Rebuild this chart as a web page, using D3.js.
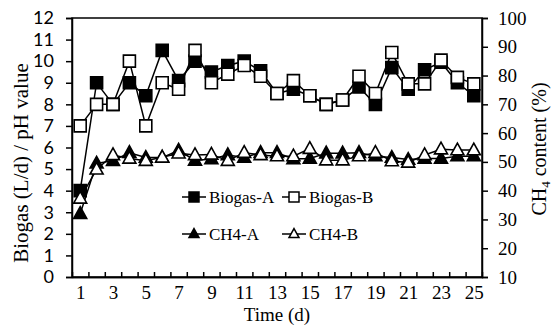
<!DOCTYPE html>
<html>
<head>
<meta charset="utf-8">
<script src="https://cdn.jsdelivr.net/npm/d3@7"></script>
<style>
  body { margin: 0; background: #fff; }
  text { fill: #000; }
</style>
</head>
<body>
<svg id="chart" width="553" height="333"></svg>
<script>
// values
var days = d3.range(1, 26);
var biogasA = [4.0, 9.0, 8.0, 9.0, 8.4, 10.5, 9.1, 10.0, 9.5, 9.8, 10.0, 9.55, 8.5, 8.7, 8.4, 8.0, 8.2, 8.8, 8.0, 9.7, 8.7, 9.6, 9.95, 9.0, 8.4];
var biogasB = [7.0, 8.0, 8.0, 10.0, 7.0, 9.0, 8.7, 10.5, 9.0, 9.4, 9.8, 9.3, 8.5, 9.1, 8.4, 8.0, 8.2, 9.3, 8.5, 10.4, 8.95, 8.95, 10.05, 9.25, 8.95];
var ch4A = [32, 49.5, 50.4, 53.2, 51.5, 51.5, 54.0, 50.5, 51.0, 52.4, 51.5, 53.2, 53.2, 51.0, 51.2, 53.0, 53.0, 53.2, 52.0, 51.5, 50.8, 51.2, 51.2, 52.0, 52.0];
var ch4B = [37.3, 47.4, 52.4, 51.2, 50.4, 51.6, 53.0, 52.4, 52.6, 50.4, 53.2, 52.4, 52.0, 52.0, 54.6, 50.6, 50.6, 52.0, 53.2, 50.3, 49.8, 52.4, 54.4, 54.1, 54.1];
var leftTicks = d3.range(0, 13);
var rightTicks = d3.range(10, 101, 10);
var xLabels = [1, 3, 5, 7, 9, 11, 13, 15, 17, 19, 21, 23, 25];

var svg = d3.select("#chart");
var plotL = 72, plotR = 482, plotT = 18, plotB = 277;
var serif = "'Liberation Serif', 'Times New Roman', serif";

var x = d3.scaleLinear().domain([0.5, 25.5]).range([plotL, plotR]);
var yL = d3.scaleLinear().domain([0, 12]).range([plotB, plotT]);
var yR = d3.scaleLinear().domain([10, 100]).range([plotB, plotT]);

// frame
svg.append("rect")
    .attr("x", plotL).attr("y", plotT)
    .attr("width", plotR - plotL).attr("height", plotB - plotT)
    .attr("fill", "none").attr("stroke", "#000").attr("stroke-width", 1.5);

// left axis (sans digits like the original)
var gL = svg.append("g").attr("transform", "translate(" + plotL + ",0)")
    .call(d3.axisLeft(yL).tickValues(leftTicks).tickSize(6).tickPadding(12));
gL.selectAll("text").style("font-family", "Lato, 'Open Sans', sans-serif").style("font-size", "18px");

var gR = svg.append("g").attr("transform", "translate(" + plotR + ",0)")
    .call(d3.axisRight(yR).tickValues(rightTicks).tickSize(6).tickPadding(10));
gR.selectAll("text").style("font-family", serif).style("font-size", "19px");

// x tick marks sit between days, pointing inward
svg.append("g").attr("transform", "translate(0," + plotB + ")")
    .call(d3.axisBottom(x).tickValues(d3.range(1.5, 25, 1)).tickSize(-5).tickFormat(""));
var gX = svg.append("g").attr("transform", "translate(0," + plotB + ")")
    .call(d3.axisBottom(x).tickValues(xLabels).tickSize(0).tickPadding(9));
gX.selectAll("text").style("font-family", serif).style("font-size", "19px");

svg.selectAll(".domain").attr("stroke-width", 1.5);
svg.selectAll(".tick line").attr("stroke-width", 1.5);

// axis titles
svg.append("text")
    .attr("transform", "translate(" + (plotL + plotR) / 2 + ",321)")
    .attr("text-anchor", "middle")
    .style("font-family", serif).style("font-size", "19px")
    .text("Time (d)");

svg.append("text")
    .attr("transform", "translate(28,163) rotate(-90)")
    .attr("text-anchor", "middle")
    .style("font-family", serif).style("font-size", "21px")
    .text("Biogas (L/d) / pH value");

var rt = svg.append("text")
    .attr("transform", "translate(546,149) rotate(-90)")
    .attr("text-anchor", "middle")
    .style("font-family", serif).style("font-size", "20px");
rt.append("tspan").text("CH");
rt.append("tspan").attr("dy", 4).style("font-size", "13px").text("4");
rt.append("tspan").attr("dy", -4).text(" content (%)");

// series
var series = [
    { name: "Biogas-A", values: biogasA, y: yL, shape: "square", fill: "#000" },
    { name: "Biogas-B", values: biogasB, y: yL, shape: "square", fill: "#fff" },
    { name: "CH4-A", values: ch4A, y: yR, shape: "triangle", fill: "#000" },
    { name: "CH4-B", values: ch4B, y: yR, shape: "triangle", fill: "#fff" }
];

function markerPath(shape, s) {
    if (shape === "square") return "M" + (-s / 2) + "," + (-s / 2) + "h" + s + "v" + s + "h" + (-s) + "Z";
    var h = s * 0.9;
    return "M0," + (-h * 0.6) + "L" + (s / 2) + "," + (h * 0.4) + "L" + (-s / 2) + "," + (h * 0.4) + "Z";
}

series.forEach(function (sr) {
    var line = d3.line()
        .x(function (d, i) { return x(days[i]); })
        .y(function (d) { return sr.y(d); });
    var g = svg.append("g");
    g.append("path")
        .datum(sr.values)
        .attr("d", line)
        .attr("fill", "none").attr("stroke", "#000").attr("stroke-width", 1.5);
    g.selectAll("path.mark")
        .data(sr.values)
        .enter().append("path")
        .attr("class", "mark")
        .attr("transform", function (d, i) { return "translate(" + x(days[i]) + "," + sr.y(d) + ")"; })
        .attr("d", markerPath(sr.shape, sr.shape === "square" ? 12 : 13))
        .attr("fill", sr.fill).attr("stroke", "#000").attr("stroke-width", 1.6);
});

// legend
var legendPos = [[194, 197], [294, 197], [194, 234], [294, 234]];
series.forEach(function (sr, i) {
    var p = legendPos[i];
    var g = svg.append("g").attr("transform", "translate(" + p[0] + "," + p[1] + ")");
    g.append("line").attr("x1", -12).attr("x2", 12)
        .attr("stroke", "#000").attr("stroke-width", 1.5);
    g.append("path").attr("d", markerPath(sr.shape, 10))
        .attr("fill", sr.fill).attr("stroke", "#000").attr("stroke-width", 1.5);
    g.append("text").attr("x", 15).attr("y", 6)
        .style("font-family", serif).style("font-size", "17px")
        .text(sr.name);
});
</script>
</body>
</html>
